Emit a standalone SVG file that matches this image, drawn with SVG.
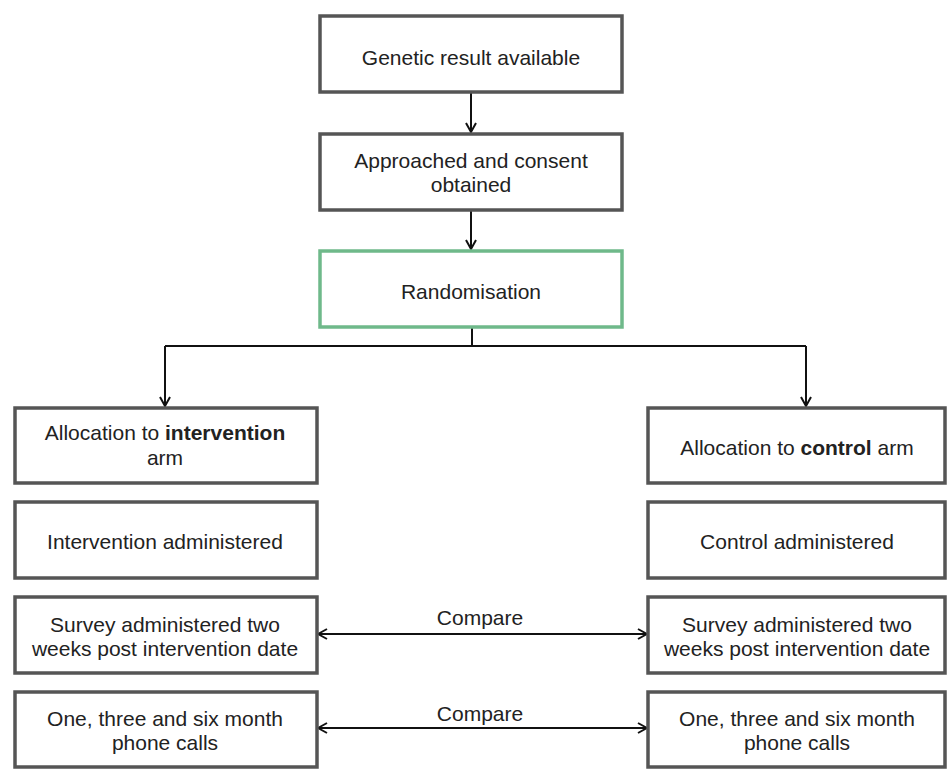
<svg xmlns="http://www.w3.org/2000/svg" width="948" height="772" viewBox="0 0 948 772">
<defs>
<style>
.box{fill:#fff;stroke:#555;stroke-width:3.5}
.green{fill:#fff;stroke:#6fb98a;stroke-width:3.5}
.t{font-family:"Liberation Sans",Arial,sans-serif;font-size:21px;fill:#222;text-anchor:middle}
.b{font-weight:bold}
.c{fill:none;stroke:#111;stroke-width:2}
</style>
<marker id="ah" viewBox="0 0 12 12" refX="11" refY="6" markerWidth="12" markerHeight="12" markerUnits="userSpaceOnUse" orient="auto-start-reverse">
<path d="M2,1 L11,6 L2,11" fill="none" stroke="#111" stroke-width="2"/>
</marker>
</defs>
<rect width="948" height="772" fill="#fff"/>
<g id="connectors">
<line class="c" x1="471" y1="92" x2="471" y2="132" marker-end="url(#ah)"/>
<line class="c" x1="471" y1="210" x2="471" y2="249" marker-end="url(#ah)"/>
<polyline class="c" points="472,328 472,346"/>
<polyline class="c" points="165,346 806,346"/>
<line class="c" x1="165" y1="346" x2="165" y2="406" marker-end="url(#ah)"/>
<line class="c" x1="806" y1="346" x2="806" y2="406" marker-end="url(#ah)"/>
<line class="c" x1="318" y1="634" x2="647" y2="634" marker-start="url(#ah)" marker-end="url(#ah)"/>
<line class="c" x1="318" y1="728" x2="647" y2="728" marker-start="url(#ah)" marker-end="url(#ah)"/>
<text class="t" x="480" y="625">Compare</text>
<text class="t" x="480" y="721">Compare</text>
</g>
<g id="genetic">
<rect class="box" x="320" y="16" width="302" height="76"/>
<text class="t" x="471" y="65">Genetic result available</text>
</g>
<g id="consent">
<rect class="box" x="320" y="134" width="302" height="76"/>
<text class="t" x="471" y="168">Approached and consent</text>
<text class="t" x="471" y="192">obtained</text>
</g>
<g id="randomisation">
<rect class="green" x="320" y="251" width="302" height="76"/>
<text class="t" x="471" y="299">Randomisation</text>
</g>
<g id="alloc-int">
<rect class="box" x="15" y="408" width="302" height="75"/>
<text class="t" x="165" y="440">Allocation to <tspan class="b">intervention</tspan></text>
<text class="t" x="165" y="465">arm</text>
</g>
<g id="int-admin">
<rect class="box" x="15" y="502" width="302" height="76"/>
<text class="t" x="165" y="549">Intervention administered</text>
</g>
<g id="survey-int">
<rect class="box" x="15" y="597" width="302" height="76"/>
<text class="t" x="165" y="632">Survey administered two</text>
<text class="t" x="165" y="656">weeks post intervention date</text>
</g>
<g id="calls-int">
<rect class="box" x="15" y="692" width="302" height="75"/>
<text class="t" x="165" y="726">One, three and six month</text>
<text class="t" x="165" y="750">phone calls</text>
</g>
<g id="alloc-ctl">
<rect class="box" x="648" y="408" width="297" height="75"/>
<text class="t" x="797" y="455">Allocation to <tspan class="b">control</tspan> arm</text>
</g>
<g id="ctl-admin">
<rect class="box" x="648" y="502" width="297" height="76"/>
<text class="t" x="797" y="549">Control administered</text>
</g>
<g id="survey-ctl">
<rect class="box" x="648" y="597" width="297" height="76"/>
<text class="t" x="797" y="632">Survey administered two</text>
<text class="t" x="797" y="656">weeks post intervention date</text>
</g>
<g id="calls-ctl">
<rect class="box" x="648" y="692" width="297" height="75"/>
<text class="t" x="797" y="726">One, three and six month</text>
<text class="t" x="797" y="750">phone calls</text>
</g>
</svg>
